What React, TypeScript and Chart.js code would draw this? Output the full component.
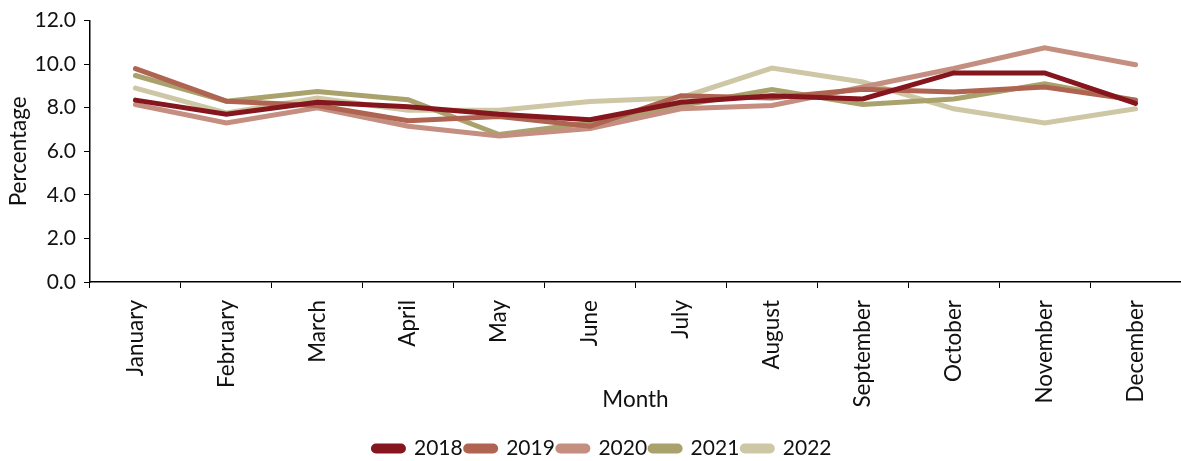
import React, { useEffect, useRef } from "react";
import { Chart, registerables } from "chart.js";

Chart.register(...registerables);

const months = ["January", "February", "March", "April", "May", "June", "July", "August", "September", "October", "November", "December"];
const years = ["2018", "2019", "2020", "2021", "2022"];
const v2018 = [8.35, 7.7, 8.25, 8.05, 7.7, 7.45, 8.25, 8.55, 8.4, 9.6, 9.6, 8.2];
const v2019 = [9.8, 8.3, 8.1, 7.4, 7.6, 7.15, 8.55, 8.45, 8.85, 8.72, 8.95, 8.35];
const v2020 = [8.15, 7.3, 8.0, 7.15, 6.7, 7.05, 7.95, 8.1, 8.95, 9.8, 10.75, 9.97];
const v2021 = [9.48, 8.3, 8.75, 8.37, 6.77, 7.3, 8.1, 8.83, 8.15, 8.4, 9.1, 8.35];
const v2022 = [8.9, 7.76, 8.44, 7.88, 7.88, 8.29, 8.46, 9.82, 9.18, 7.95, 7.3, 7.95];
const seriesValues = [v2018, v2019, v2020, v2021, v2022];
const colors = ["#86161D", "#AE6451", "#C48E80", "#A9A26D", "#CEC7A5"];
const yTicks = [0, 2, 4, 6, 8, 10, 12];

const FONT = "Lato, 'Open Sans', sans-serif";

const legendShift = {
  id: "legendShift",
  beforeDraw(chart: any) {
    const lg = chart.legend;
    if (lg && !lg._shifted) {
      lg.left += 12;
      lg.right += 12;
      lg._shifted = true;
    }
  },
};

export default function App() {
  const ref = useRef<HTMLCanvasElement>(null);
  useEffect(() => {
    if (!ref.current) return;
    const chart = new Chart(ref.current, {
      type: "line",
      data: {
        labels: months,
        datasets: years.map((y, i) => ({
          label: y,
          data: seriesValues[i],
          borderColor: colors[i],
          backgroundColor: colors[i],
          borderWidth: 5,
          borderCapStyle: "round",
          pointRadius: 0,
          tension: 0,
          fill: false,
        })),
      },
      plugins: [legendShift],
      options: {
        responsive: false,
        animation: false,
        layout: { padding: { left: 0, right: 0, top: 10, bottom: -8 } },
        plugins: {
          legend: {
            position: "bottom",
            labels: {
              font: { family: FONT, size: 21 },
              color: "#111",
              boxWidth: 30,
              boxHeight: 5,
              useBorderRadius: true,
              borderRadius: 2.5,
              padding: 3,
            },
          },
          tooltip: { enabled: false },
        },
        scales: {
          x: {
            offset: true,
            border: { color: "#000", width: 1.5 },
            grid: { offset: true, drawOnChartArea: false, drawTicks: true, tickLength: 6, color: "#000" },
            ticks: {
              minRotation: 90,
              maxRotation: 90,
              padding: 12,
              color: "#111",
              font: { family: FONT, size: 22.5 },
            },
            title: { display: true, text: "Month", color: "#111", font: { family: FONT, size: 22.5 }, padding: { top: 0, bottom: 22 } },
            afterFit: (s: any) => { s.height = 153; },
          },
          y: {
            min: 0,
            max: 12,
            border: { color: "#000", width: 1.5 },
            grid: { drawOnChartArea: false, drawTicks: true, tickLength: 6, color: "#000" },
            afterBuildTicks: (s: any) => { s.ticks = yTicks.map((v) => ({ value: v })); },
            ticks: {
              padding: 8,
              color: "#111",
              font: { family: FONT, size: 21 },
              callback: (v: any) => Number(v).toFixed(1),
            },
            title: { display: true, text: "Percentage", color: "#111", font: { family: FONT, size: 22.5 }, padding: { top: 5, bottom: 0 } },
            afterFit: (s: any) => { s.width = 90; },
          },
        },
      },
    });
    return () => chart.destroy();
  }, []);
  return (
    <div style={{ position: "fixed", left: 0, top: 0, width: 1181, height: 461, background: "#fff" }}>
      <canvas ref={ref} width={1181} height={461} style={{ width: 1181, height: 461 }} />
    </div>
  );
}
